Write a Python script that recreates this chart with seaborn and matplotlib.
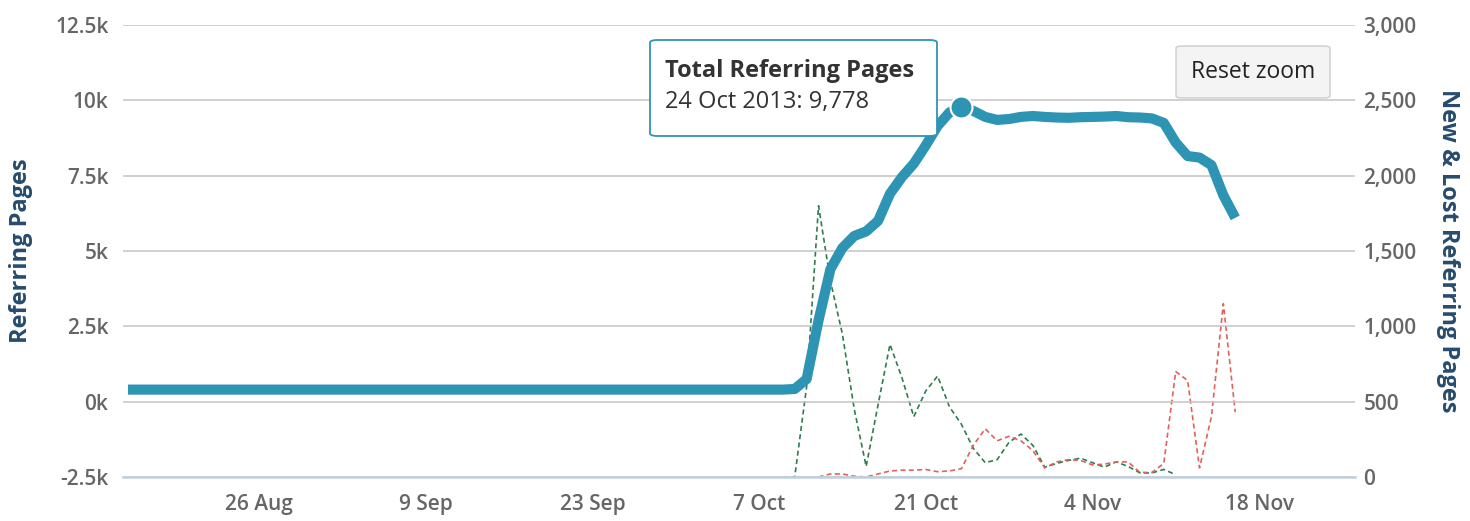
import numpy as np
import pandas as pd
import seaborn as sns
import matplotlib.pyplot as plt
import matplotlib.ticker as mticker
from matplotlib.patches import FancyBboxPatch

# daily totals, 15 Aug 2013 - 16 Nov 2013
total_pages = [
    400, 400, 400, 400, 400, 400, 400, 400, 400, 400, 400, 400, 400, 400,
    400, 400, 400, 400, 400, 400, 400, 400, 400, 400, 400, 400, 400, 400,
    400, 400, 400, 400, 400, 400, 400, 400, 400, 400, 400, 400, 400, 400,
    400, 400, 400, 400, 400, 400, 400, 400, 400, 400, 400, 400, 400, 400,
    420, 750, 2700, 4400, 5100, 5500, 5650, 6000, 6900, 7450, 7900, 8500,
    9150, 9600, 9778, 9650, 9450, 9350, 9380, 9450, 9480, 9450, 9430, 9420,
    9440, 9450, 9460, 9480, 9440, 9430, 9400, 9250, 8600, 8150, 8100, 7850,
    6850, 6100,
]
total_start = "2013-08-15"

# new pages, 9 Oct - 11 Nov
new_pages = [
    0, 0, 600, 1800, 1300, 950, 450, 70, 480, 880, 660, 400, 570, 670,
    465, 350, 190, 95, 115, 230, 285, 210, 65, 90, 110, 125, 95, 65,
    100, 70, 27, 27, 50, 15,
]
new_start = "2013-10-09"

# lost pages, 12 Oct - 16 Nov
lost_pages = [
    0, 20, 20, 5, 0, 20, 40, 45, 45, 50, 35, 40, 55, 210, 320, 240,
    270, 240, 175, 60, 100, 115, 110, 80, 85, 100, 100, 30, 30, 90,
    700, 640, 60, 400, 1150, 430,
]
lost_start = "2013-10-12"

tick_dates = ["2013-08-26", "2013-09-09", "2013-09-23", "2013-10-07",
              "2013-10-21", "2013-11-04", "2013-11-18"]
tick_labels = ["26 Aug", "9 Sep", "23 Sep", "7 Oct", "21 Oct", "4 Nov", "18 Nov"]

df_total = pd.DataFrame({"date": pd.date_range(total_start, periods=len(total_pages)),
                         "pages": total_pages})
df_new = pd.DataFrame({"date": pd.date_range(new_start, periods=len(new_pages)),
                       "pages": new_pages})
df_lost = pd.DataFrame({"date": pd.date_range(lost_start, periods=len(lost_pages)),
                        "pages": lost_pages})

sns.set_theme(style="white")
plt.rcParams['font.family'] = ['Open Sans', 'DejaVu Sans']

BLUE = "#2e94b3"
GREEN = "#2f7d4f"
RED = "#e0625a"
TICK = "#666666"
LABEL = "#274b6d"
GRID = "#c4c4c4"

fig = plt.figure(figsize=(14.7, 5.21), dpi=100)
ax = fig.add_axes([0.0837, 0.0845, 0.8381, 0.8675])
ax2 = ax.twinx()

ax.set_ylim(-2500, 12500)
ax2.set_ylim(0, 3000)
ax.set_yticks(np.arange(-2500, 12501, 2500))
ax2.set_yticks(np.arange(0, 3001, 500))
ax.yaxis.grid(True, color=GRID, linewidth=1.1)
ax.xaxis.grid(False)
ax2.grid(False)

sns.lineplot(data=df_new, x="date", y="pages", ax=ax2, color=GREEN,
             linewidth=1.2, dashes=False, zorder=2)
sns.lineplot(data=df_lost, x="date", y="pages", ax=ax2, color=RED,
             linewidth=1.2, dashes=False, zorder=2)
for ln in ax2.lines:
    ln.set_linestyle((0, (3, 2)))

ax.set_zorder(ax2.get_zorder() + 1)
ax.patch.set_visible(False)
sns.lineplot(data=df_total, x="date", y="pages", ax=ax, color=BLUE,
             linewidth=7.3, zorder=3, solid_capstyle="butt",
             solid_joinstyle="round")

peak = df_total.loc[df_total["pages"].idxmax()]
ax.scatter([peak["date"]], [peak["pages"]], s=250, color=BLUE,
           edgecolor="white", linewidth=1.5, zorder=5)

ax.set_xlim(pd.Timestamp("2013-08-14 14:00"), pd.Timestamp("2013-11-26 01:30"))
ax.set_xticks(pd.to_datetime(tick_dates))
ax.set_xticklabels(tick_labels)

ax.yaxis.set_major_formatter(mticker.FuncFormatter(
    lambda v, p: f"{v/1000:g}k"))
ax2.yaxis.set_major_formatter(mticker.FuncFormatter(
    lambda v, p: f"{int(v):,}"))

for a in (ax, ax2):
    for s in a.spines.values():
        s.set_visible(False)
ax.spines["bottom"].set_visible(True)
ax.spines["bottom"].set_color("#c0d0e0")
ax.spines["bottom"].set_linewidth(1.8)

ax.tick_params(axis="x", colors="#c0d0e0", length=9, width=1.2, pad=3,
               labelcolor=TICK, labelsize=15)
ax.tick_params(axis="y", length=0, pad=10.5, labelcolor=TICK, labelsize=15)
ax2.tick_params(axis="y", length=0, pad=6, labelcolor=TICK, labelsize=15)
for t in ax.get_xticklabels() + ax.get_yticklabels() + ax2.get_yticklabels():
    t.set_fontweight("semibold")

ax.set_xlabel("")
ax.set_ylabel("Referring Pages", color=LABEL, fontsize=17, fontweight="bold",
              va="center")
ax2.set_ylabel("New & Lost Referring Pages", color=LABEL, fontsize=17,
               fontweight="bold", rotation=270, va="center")
ax.yaxis.set_label_coords(-0.083, 0.5)
ax2.yaxis.set_label_coords(1.0755, 0.5)

# tooltip
W, H = 1470, 521
tip = FancyBboxPatch((650 / W, 1 - 136 / H), 287 / W, 96 / H,
                     boxstyle="round,pad=0,rounding_size=0.005",
                     transform=fig.transFigure, facecolor="white",
                     edgecolor=BLUE, linewidth=1.3, zorder=10)
fig.patches.append(tip)
fig.text(665 / W, 1 - 71 / H, "Total Referring Pages", fontsize=17,
         fontweight="bold", color="#333333", va="center", zorder=11)
fig.text(665 / W, 1 - 102 / H, "24 Oct 2013: 9,778", fontsize=17,
         color="#333333", va="center", zorder=11)

# reset zoom button
btn = FancyBboxPatch((1176 / W, 1 - 98 / H), 154 / W, 52 / H,
                     boxstyle="round,pad=0,rounding_size=0.004",
                     transform=fig.transFigure, facecolor="#f4f4f4",
                     edgecolor="#cccccc", linewidth=1.0, zorder=10)
fig.patches.append(btn)
fig.text(1253 / W, 1 - 72 / H, "Reset zoom", fontsize=16.5,
         color="#222222", ha="center", va="center", zorder=11)

plt.savefig("out.png", dpi=100)
